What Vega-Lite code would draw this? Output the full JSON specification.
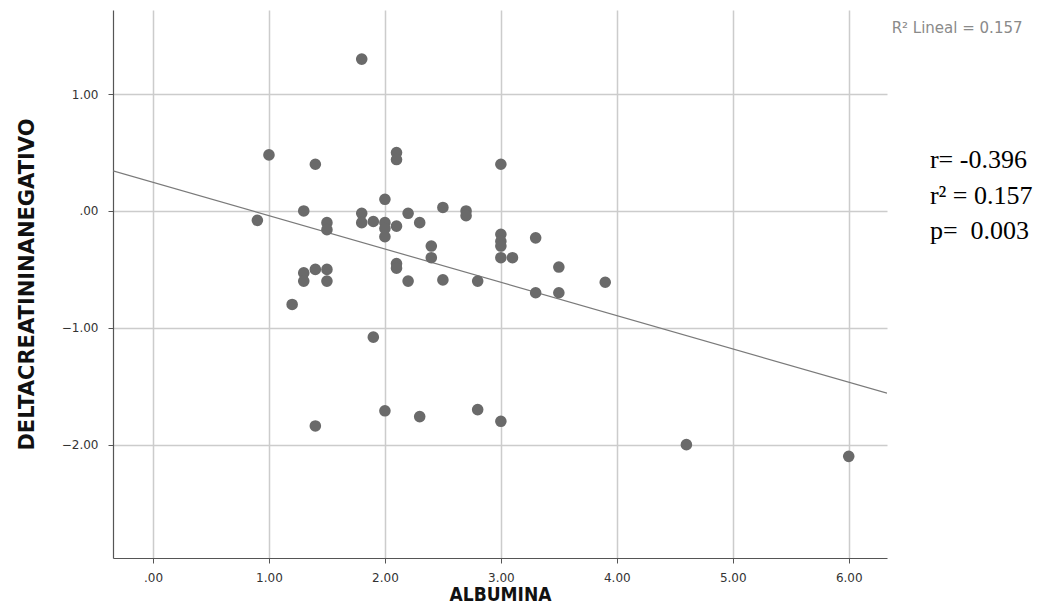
{
  "$schema": "https://vega.github.io/schema/vega-lite/v6.json",
  "autosize": "none",
  "width": 774,
  "height": 548,
  "padding": {"left": 113, "top": 10, "right": 177, "bottom": 48},
  "background": "white",
  "config": {"view": {"stroke": null}},
  "datasets": {
    "pts": [
      {"albumina": 0.9, "delta": -0.08},
      {"albumina": 1.0, "delta": 0.48},
      {"albumina": 1.2, "delta": -0.8},
      {"albumina": 1.3, "delta": 0.0},
      {"albumina": 1.3, "delta": -0.53},
      {"albumina": 1.3, "delta": -0.6},
      {"albumina": 1.4, "delta": 0.4},
      {"albumina": 1.4, "delta": -0.5},
      {"albumina": 1.4, "delta": -1.84},
      {"albumina": 1.5, "delta": -0.1},
      {"albumina": 1.5, "delta": -0.16},
      {"albumina": 1.5, "delta": -0.5},
      {"albumina": 1.5, "delta": -0.6},
      {"albumina": 1.8, "delta": 1.3},
      {"albumina": 1.8, "delta": -0.02},
      {"albumina": 1.8, "delta": -0.1},
      {"albumina": 1.9, "delta": -0.09},
      {"albumina": 1.9, "delta": -1.08},
      {"albumina": 2.0, "delta": 0.1},
      {"albumina": 2.0, "delta": -0.1},
      {"albumina": 2.0, "delta": -0.15},
      {"albumina": 2.0, "delta": -0.22},
      {"albumina": 2.0, "delta": -1.71},
      {"albumina": 2.1, "delta": 0.5},
      {"albumina": 2.1, "delta": 0.44},
      {"albumina": 2.1, "delta": -0.13},
      {"albumina": 2.1, "delta": -0.45},
      {"albumina": 2.1, "delta": -0.49},
      {"albumina": 2.2, "delta": -0.02},
      {"albumina": 2.2, "delta": -0.6},
      {"albumina": 2.3, "delta": -0.1},
      {"albumina": 2.3, "delta": -1.76},
      {"albumina": 2.4, "delta": -0.3},
      {"albumina": 2.4, "delta": -0.4},
      {"albumina": 2.5, "delta": 0.03},
      {"albumina": 2.5, "delta": -0.59},
      {"albumina": 2.7, "delta": 0.0},
      {"albumina": 2.7, "delta": -0.04},
      {"albumina": 2.8, "delta": -0.6},
      {"albumina": 2.8, "delta": -1.7},
      {"albumina": 3.0, "delta": 0.4},
      {"albumina": 3.0, "delta": -0.2},
      {"albumina": 3.0, "delta": -0.26},
      {"albumina": 3.0, "delta": -0.3},
      {"albumina": 3.0, "delta": -0.4},
      {"albumina": 3.0, "delta": -1.8},
      {"albumina": 3.1, "delta": -0.4},
      {"albumina": 3.3, "delta": -0.23},
      {"albumina": 3.3, "delta": -0.7},
      {"albumina": 3.5, "delta": -0.48},
      {"albumina": 3.5, "delta": -0.7},
      {"albumina": 3.9, "delta": -0.61},
      {"albumina": 4.6, "delta": -2.0},
      {"albumina": 6.0, "delta": -2.1}
    ],
    "fit": [
      {"albumina": -0.345, "delta": 0.343},
      {"albumina": 6.33, "delta": -1.56}
    ],
    "rlabel": [
      {"albumina": 6.37, "delta": 1.568, "label": "R² Lineal = 0.157"}
    ],
    "notes": [
      {"albumina": 6.7, "delta": 0.437, "label": "r= -0.396"},
      {"albumina": 6.7, "delta": 0.129, "label": "r² = 0.157"},
      {"albumina": 6.7, "delta": -0.171, "label": "p=\u00a0 0.003"}
    ]
  },
  "layer": [
    {
      "data": {"name": "fit"},
      "mark": {"type": "line", "color": "#7a7a7a", "strokeWidth": 1.2, "clip": true},
      "encoding": {
        "x": {
          "field": "albumina", "type": "quantitative",
          "scale": {"domain": [-0.345, 6.33], "nice": false, "zero": false},
          "axis": {
            "title": "ALBUMINA",
            "values": [0, 1, 2, 3, 4, 5, 6],
            "labelExpr": "datum.value == 0 ? '.00' : format(datum.value, '.2f')",
            "labelFont": "DejaVu Sans", "labelFontSize": 12, "labelColor": "#333333",
            "labelPadding": 9,
            "titleFont": "DejaVu Sans Condensed, Liberation Sans, sans-serif", "titleFontSize": 19, "titleFontWeight": "bold", "titleColor": "#111111",
            "titlePadding": 2,
            "grid": true, "gridColor": "#cccccc", "gridWidth": 1.5,
            "domainColor": "#555555", "domainWidth": 1.2,
            "tickColor": "#555555", "tickSize": 5
          }
        },
        "y": {
          "field": "delta", "type": "quantitative",
          "scale": {"domain": [-2.97, 1.72], "nice": false, "zero": false},
          "axis": {
            "title": "DELTACREATININANEGATIVO",
            "values": [-2, -1, 0, 1],
            "labelExpr": "datum.value == 0 ? '.00' : format(datum.value, '.2f')",
            "labelFont": "DejaVu Sans", "labelFontSize": 12, "labelColor": "#333333",
            "labelPadding": 10,
            "titleFont": "DejaVu Sans, sans-serif", "titleFontSize": 21, "titleFontWeight": "bold", "titleColor": "#111111",
            "titlePadding": 24,
            "grid": true, "gridColor": "#cccccc", "gridWidth": 1.5,
            "domainColor": "#555555", "domainWidth": 1.2,
            "tickColor": "#555555", "tickSize": 5
          }
        }
      }
    },
    {
      "data": {"name": "pts"},
      "mark": {"type": "circle", "size": 135, "color": "#6a6a6a", "opacity": 1},
      "encoding": {
        "x": {"field": "albumina", "type": "quantitative"},
        "y": {"field": "delta", "type": "quantitative"}
      }
    },
    {
      "data": {"name": "rlabel"},
      "mark": {"type": "text", "align": "left", "baseline": "middle", "font": "DejaVu Sans", "fontSize": 15, "color": "#8a8a8a", "clip": false},
      "encoding": {
        "x": {"field": "albumina", "type": "quantitative"},
        "y": {"field": "delta", "type": "quantitative"},
        "text": {"field": "label"}
      }
    },
    {
      "data": {"name": "notes"},
      "mark": {"type": "text", "align": "left", "baseline": "middle", "font": "Liberation Serif", "fontSize": 26, "color": "#000000", "clip": false},
      "encoding": {
        "x": {"field": "albumina", "type": "quantitative"},
        "y": {"field": "delta", "type": "quantitative"},
        "text": {"field": "label"}
      }
    }
  ]
}
